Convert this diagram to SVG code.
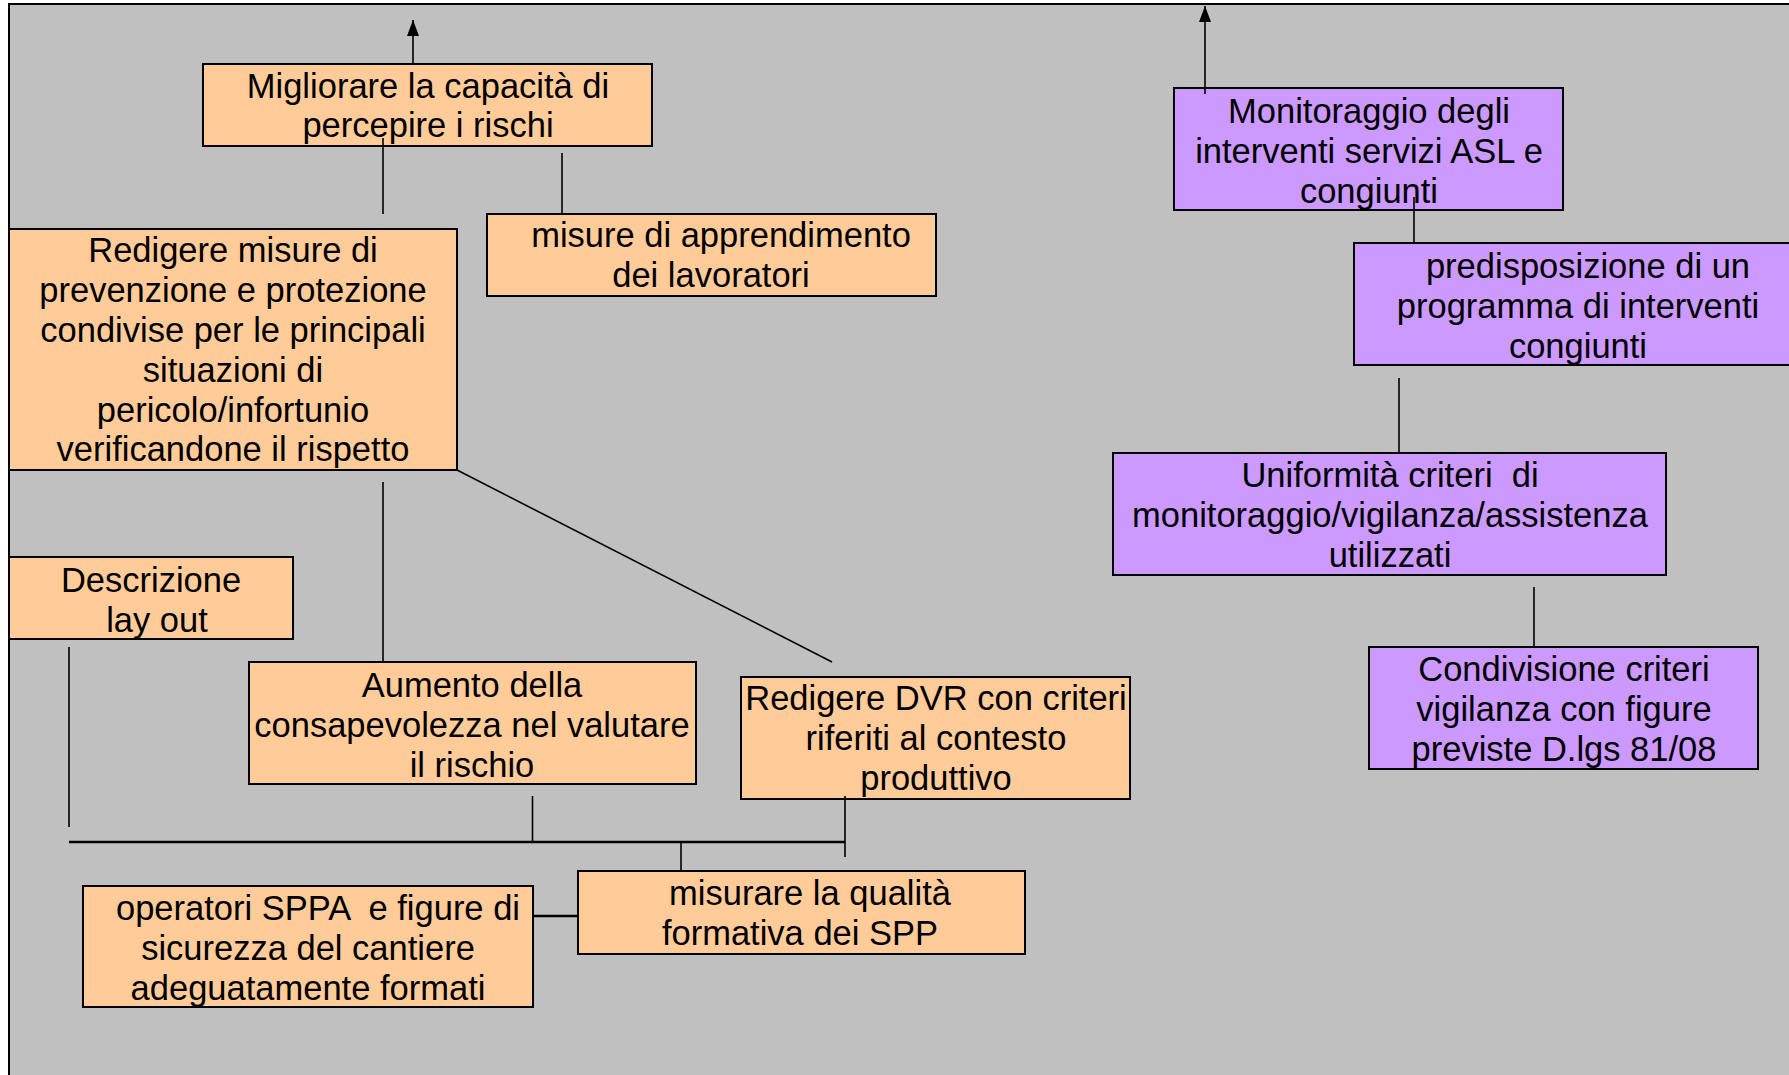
<svg xmlns="http://www.w3.org/2000/svg" width="1789" height="1075" viewBox="0 0 1789 1075">
<defs>
<style>
.o{fill:#FFCC99;stroke:#000;stroke-width:2}
.p{fill:#CC99FF;stroke:#000;stroke-width:2}
text{font-family:"Liberation Sans",Arial,sans-serif;font-size:34.5px;fill:#000;text-anchor:middle;white-space:pre}
.c line{stroke:#000;stroke-width:1.6}
.c .t{stroke-width:2.6}
</style>
<marker id="ah" markerWidth="16" markerHeight="12" refX="16" refY="6" orient="auto" markerUnits="userSpaceOnUse" viewBox="0 0 16 12">
<path d="M0,0 L16,6 L0,12 Z" fill="#000"/>
</marker>
</defs>
<rect x="0" y="0" width="1789" height="1075" fill="#fff"/>
<rect id="bg" x="9" y="4" width="1800" height="1100" fill="#C0C0C0" stroke="#000" stroke-width="2"/>

<g id="n1"><rect class="o" x="203" y="64" width="449" height="82"/>
<text x="428" y="98">Migliorare la capacità di</text><text x="428" y="137">percepire i rischi</text></g>

<g id="n2"><rect class="o" x="9" y="229" width="448" height="241"/>
<text x="233" y="262">Redigere misure di</text><text x="233" y="302">prevenzione e protezione</text><text x="233" y="342">condivise per le principali</text><text x="233" y="382">situazioni di</text><text x="233" y="422">pericolo/infortunio</text><text x="233" y="461">verificandone il rispetto</text></g>

<g id="n3"><rect class="o" x="487" y="214" width="449" height="82"/>
<text x="721" y="247">misure di apprendimento</text><text x="711" y="287">dei lavoratori</text></g>

<g id="n4"><rect class="o" x="9" y="557" width="284" height="82"/>
<text x="151" y="592">Descrizione</text><text x="157" y="632">lay out</text></g>

<g id="n5"><rect class="o" x="249" y="662" width="447" height="122"/>
<text x="472" y="697">Aumento della</text><text x="472" y="737">consapevolezza nel valutare</text><text x="472" y="777">il rischio</text></g>

<g id="n6"><rect class="o" x="741" y="677" width="389" height="122"/>
<text x="936" y="710">Redigere DVR con criteri</text><text x="936" y="750">riferiti al contesto</text><text x="936" y="790">produttivo</text></g>

<g id="n7"><rect class="o" x="578" y="871" width="447" height="83"/>
<text x="810" y="905">misurare la qualità</text><text x="800" y="945">formativa dei SPP</text></g>

<g id="n8"><rect class="o" x="83" y="886" width="450" height="121"/>
<text x="318" y="920" xml:space="preserve">operatori SPPA  e figure di</text><text x="308" y="960">sicurezza del cantiere</text><text x="308" y="1000">adeguatamente formati</text></g>

<g id="n9"><rect class="p" x="1174" y="88" width="389" height="122"/>
<text x="1369" y="123">Monitoraggio degli</text><text x="1369" y="163">interventi servizi ASL e</text><text x="1369" y="203">congiunti</text></g>

<g id="n10"><rect class="p" x="1354" y="243" width="460" height="122"/>
<text x="1588" y="278">predisposizione di un</text><text x="1578" y="318">programma di interventi</text><text x="1578" y="358">congiunti</text></g>

<g id="n11"><rect class="p" x="1113" y="453" width="553" height="122"/>
<text x="1390" y="487" xml:space="preserve">Uniformità criteri  di</text><text x="1390" y="527">monitoraggio/vigilanza/assistenza</text><text x="1390" y="567">utilizzati</text></g>

<g id="n12"><rect class="p" x="1369" y="647" width="389" height="122"/>
<text x="1564" y="681">Condivisione criteri</text><text x="1564" y="721">vigilanza con figure</text><text x="1564" y="761">previste D.lgs 81/08</text></g>

<g id="connectors" class="c">
<line x1="413" y1="64" x2="413" y2="20" marker-end="url(#ah)"/>
<line x1="1205" y1="94" x2="1205" y2="6" marker-end="url(#ah)"/>
<line x1="383" y1="138" x2="383" y2="214"/>
<line x1="562" y1="153" x2="562" y2="213"/>
<line x1="457" y1="470" x2="832" y2="662"/>
<line x1="383" y1="482" x2="383" y2="662"/>
<line x1="69" y1="647" x2="69" y2="827"/>
<line x1="532.5" y1="796" x2="532.5" y2="842"/>
<line class="t" x1="69" y1="842" x2="845" y2="842"/>
<line x1="845" y1="796" x2="845" y2="857"/>
<line x1="681" y1="842" x2="681" y2="871"/>
<line class="t" x1="533" y1="916" x2="578" y2="916"/>
<line x1="1414" y1="197" x2="1414" y2="243"/>
<line x1="1399" y1="378" x2="1399" y2="453"/>
<line x1="1534" y1="587" x2="1534" y2="647"/>
</g>
</svg>
